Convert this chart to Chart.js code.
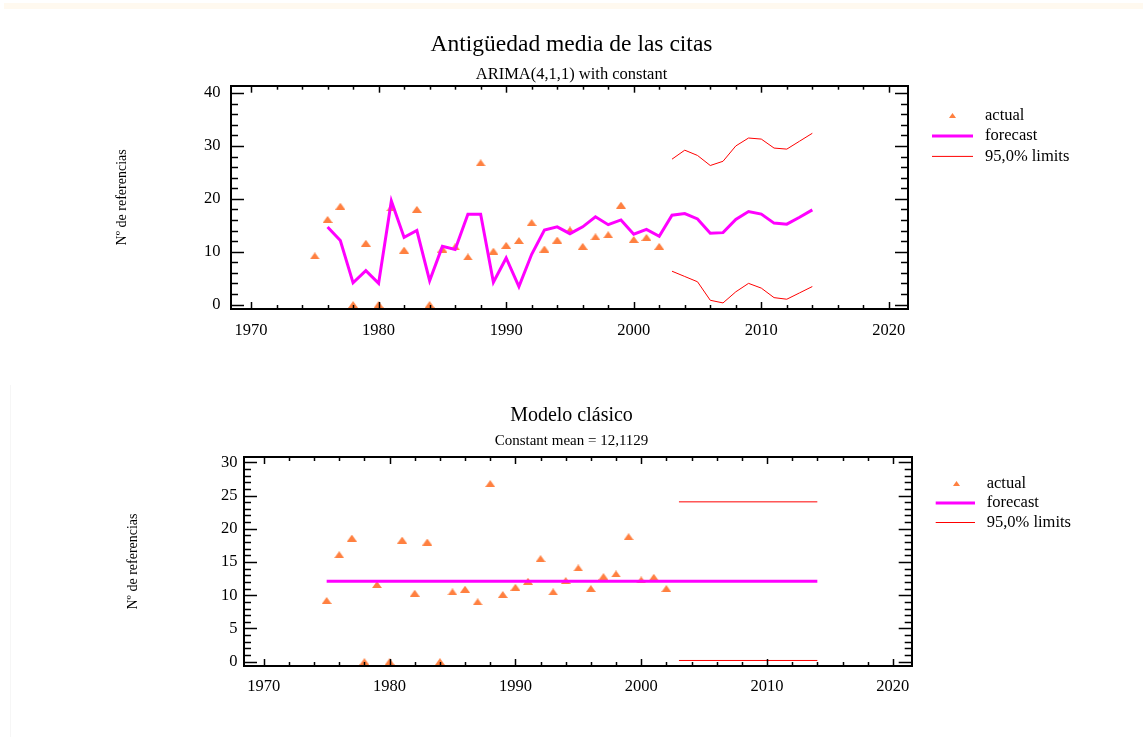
<!DOCTYPE html>
<html>
<head>
<meta charset="utf-8">
<script src="https://cdn.jsdelivr.net/npm/chart.js@4/dist/chart.umd.min.js"></script>
<style>
  html, body { margin: 0; padding: 0; background: #fff; }
  body { width: 1143px; height: 737px; position: relative; overflow: hidden; }
  #band { position: absolute; left: 4px; top: 3px; width: 1139px; height: 6px; background: #fff9ef; }
  #edge { position: absolute; left: 10px; top: 385px; width: 1px; height: 352px; background: #f6f6f6; }
  canvas { position: absolute; left: 0; }
  #arima { top: 0; }
  #clasico { top: 370px; }
</style>
</head>
<body>
<div id="band"></div>
<div id="edge"></div>
<canvas id="arima" width="1143" height="370"></canvas>
<canvas id="clasico" width="1143" height="367"></canvas>
<script>
// observed series (both panels)
const actualYears = [1975, 1976, 1977, 1978, 1979, 1980, 1981, 1982, 1983, 1984,
  1985, 1986, 1987, 1988, 1989, 1990, 1991, 1992, 1993, 1994,
  1995, 1996, 1997, 1998, 1999, 2000, 2001, 2002];
const actualValues = [9.2, 16.1, 18.6, 0, 11.6, 0, 18.3, 10.3, 18.0, 0,
  10.5, 10.9, 9.0, 26.8, 10.1, 11.2, 12.1, 15.5, 10.5, 12.2,
  14.1, 11.0, 12.8, 13.2, 18.8, 12.3, 12.7, 11.0];

// ARIMA(4,1,1) panel
const arimaYears = [1976, 1977, 1978, 1979, 1980, 1981, 1982, 1983, 1984, 1985,
  1986, 1987, 1988, 1989, 1990, 1991, 1992, 1993, 1994, 1995,
  1996, 1997, 1998, 1999, 2000, 2001, 2002, 2003, 2004, 2005,
  2006, 2007, 2008, 2009, 2010, 2011, 2012, 2013, 2014];
const arimaForecast = [14.65, 12.1, 4.1, 6.4, 4.0, 19.6, 12.7, 14.0, 4.5, 11.0,
  10.4, 17.1, 17.1, 4.2, 8.8, 3.4, 9.5, 14.1, 14.7, 13.4,
  14.7, 16.6, 15.1, 16.0, 13.3, 14.2, 12.9, 16.9, 17.2, 16.2,
  13.5, 13.6, 16.1, 17.6, 17.1, 15.4, 15.2, 16.5, 17.9];
const limitYears = [2003, 2004, 2005, 2006, 2007, 2008, 2009, 2010, 2011, 2012, 2013, 2014];
const arimaUpper = [27.5, 29.2, 28.2, 26.3, 27.1, 30.0, 31.5, 31.3, 29.6, 29.4, 30.9, 32.4];
const arimaLower = [6.3, 5.3, 4.3, 0.8, 0.3, 2.4, 4.0, 3.1, 1.3, 1.0, 2.2, 3.4];

// constant mean panel
const meanYears = [1975, 2014];
const meanForecast = [12.1129, 12.1129];
const meanLimitYears = [2003, 2014];
const meanUpper = [24.05, 24.05];
const meanLower = [0.18, 0.18];

// tick labels
const yearTicks = [1970, 1980, 1990, 2000, 2010, 2020];
const arimaYTicks = [0, 10, 20, 30, 40];
const meanYTicks = [0, 5, 10, 15, 20, 25, 30];

const serif = '"Liberation Serif", "Times New Roman", serif';
Chart.defaults.font.family = serif;
Chart.defaults.color = '#000';

const orange = '#ff8040';
const magenta = '#ff00ff';
const red = '#ff0000';

function pts(xs, ys) {
  return xs.map((x, i) => ({ x: x, y: ys[i] }));
}

// flat triangle marker, drawn centred on the point
function triangleMarker(w, h) {
  const c = document.createElement('canvas');
  c.width = w; c.height = h;
  const t = c.getContext('2d');
  t.fillStyle = orange;
  t.beginPath();
  t.moveTo(w / 2, 0); t.lineTo(w, h); t.lineTo(0, h); t.closePath();
  t.fill();
  return c;
}
const bigTriangle = triangleMarker(10, 7);
const smallTriangle = triangleMarker(7, 5);

// tick marks pointing into the plot, on all four sides
const innerTicks = {
  id: 'innerTicks',
  afterDatasetsDraw(chart, args, o) {
    const { ctx, chartArea: a } = chart;
    const x = chart.scales.x, y = chart.scales.y;
    ctx.save();
    ctx.strokeStyle = '#000';
    ctx.lineWidth = 1.5;
    const mark = (px, py, dx, dy) => {
      ctx.beginPath(); ctx.moveTo(px, py); ctx.lineTo(px + dx, py + dy); ctx.stroke();
    };
    for (let v = Math.ceil(x.min / o.xMinor) * o.xMinor; v <= x.max; v += o.xMinor) {
      const len = v % o.xMajor === 0 ? 7 : 4;
      const px = Math.round(x.getPixelForValue(v)) + 0.5;
      mark(px, a.bottom, 0, -len);
      mark(px, a.top, 0, len);
    }
    for (let v = Math.ceil(y.min / o.yMinor) * o.yMinor; v <= y.max; v += o.yMinor) {
      const len = v % o.yMajor === 0 ? 13 : 7;
      const py = Math.round(y.getPixelForValue(v)) + 0.5;
      mark(a.left, py, len, 0);
      mark(a.right, py, -len, 0);
    }
    ctx.restore();
  }
};

// legend to the right of the plot, built from the datasets
const sideLegend = {
  id: 'sideLegend',
  afterDraw(chart, args, o) {
    const { ctx, chartArea: a } = chart;
    ctx.save();
    ctx.font = '16.5px ' + serif;
    ctx.textBaseline = 'middle';
    chart.data.datasets.filter(d => !d.hideInLegend).forEach((d, i) => {
      const yy = a.top + o.top + i * o.gap;
      if (d.showLine === false) {
        ctx.drawImage(smallTriangle, Math.round(a.right + o.mark - 3.5), Math.round(yy - 2.5));
      } else {
        ctx.strokeStyle = d.borderColor;
        ctx.lineWidth = d.borderWidth;
        ctx.beginPath();
        ctx.moveTo(a.right + o.line0, yy);
        ctx.lineTo(a.right + o.line1, yy);
        ctx.stroke();
      }
      ctx.fillStyle = '#000';
      ctx.fillText(d.label, a.right + o.text, yy);
    });
    ctx.restore();
  }
};

function fixedTicks(values) {
  return s => { s.ticks = values.map(v => ({ value: v })); };
}

function buildChart(id, g) {
  const border = { display: true, color: '#000', width: 2 };
  const tickFont = { size: 16.5 };
  return new Chart(document.getElementById(id), {
    type: 'line',
    data: {
      datasets: [
        { label: 'actual', data: pts(actualYears, actualValues), showLine: false,
          pointStyle: bigTriangle, pointRadius: 5, pointBackgroundColor: orange,
          pointBorderWidth: 0, borderColor: orange, order: 1 },
        { label: 'forecast', data: pts(g.fYears, g.fValues), borderColor: magenta,
          borderWidth: 3, pointRadius: 0, tension: 0, order: 0 },
        { label: '95,0% limits', data: pts(g.limYears, g.upper), borderColor: red,
          borderWidth: 1, pointRadius: 0, tension: 0, order: 0 },
        { label: '95,0% limits', data: pts(g.limYears, g.lower), borderColor: red,
          borderWidth: 1, pointRadius: 0, tension: 0, order: 0, hideInLegend: true }
      ]
    },
    options: {
      responsive: false,
      animation: false,
      devicePixelRatio: 1,
      layout: { padding: 0 },
      plugins: {
        legend: { display: false },
        tooltip: { enabled: false },
        title: { display: true, text: g.title, font: { size: g.titleSize, weight: 'normal' },
          padding: { top: g.titlePad, bottom: 0 } },
        subtitle: { display: true, text: g.subtitle, font: { size: g.subSize },
          padding: { top: g.subPadTop, bottom: g.subPadBottom } },
        innerTicks: { xMinor: 2, xMajor: 10, yMinor: g.yMinor, yMajor: g.yStep },
        sideLegend: g.legend
      },
      scales: {
        x: {
          type: 'linear', position: 'bottom', bounds: 'data', min: 1968.43, max: 2021.5,
          grid: { display: false, drawTicks: false }, border: border,
          ticks: { padding: g.xPad, font: tickFont, maxRotation: 0, autoSkip: false,
            callback: v => String(v) },
          afterBuildTicks: fixedTicks(yearTicks),
          afterFit: s => { s.height = g.xHeight; }
        },
        x2: {
          type: 'linear', position: 'top', bounds: 'data', min: 1968.43, max: 2021.5,
          grid: { display: false, drawTicks: false }, border: border, ticks: { display: false },
          afterFit: s => { s.height = 0; }
        },
        y: {
          type: 'linear', position: 'left', bounds: 'data', min: g.yMin, max: g.yMax,
          grid: { display: false, drawTicks: false }, border: border,
          ticks: { padding: g.yPad, font: tickFont, callback: v => String(v) },
          afterBuildTicks: fixedTicks(g.yTicks),
          title: { display: true, text: 'Nº de referencias', font: { size: 14 },
            padding: { top: g.yTitlePad, bottom: 0 } },
          afterFit: s => { s.width = g.yWidth; }
        },
        y2: {
          type: 'linear', position: 'right', bounds: 'data', min: g.yMin, max: g.yMax,
          grid: { display: false, drawTicks: false }, border: border, ticks: { display: false },
          afterFit: s => { s.width = g.rightWidth; }
        }
      }
    },
    plugins: [innerTicks, sideLegend]
  });
}

buildChart('arima', {
  title: 'Antigüedad media de las citas', titleSize: 23.5, titlePad: 30.5,
  subtitle: 'ARIMA(4,1,1) with constant', subSize: 16.5, subPadTop: 6.5, subPadBottom: 0.7,
  fYears: arimaYears, fValues: arimaForecast,
  limYears: limitYears, upper: arimaUpper, lower: arimaLower,
  yMin: -0.85, yMax: 41.4, yTicks: arimaYTicks, yStep: 10, yMinor: 2,
  yWidth: 231, rightWidth: 235, xHeight: 61, xPad: 11.5, yPad: 10.5, yTitlePad: 114,
  legend: { top: 29.7, gap: 20.5, mark: 44.3, line0: 24, line1: 65, text: 77 }
});

buildChart('clasico', {
  title: 'Modelo clásico', titleSize: 20, titlePad: 33.7,
  subtitle: 'Constant mean = 12,1129', subSize: 15, subPadTop: 4, subPadBottom: 7.3,
  fYears: meanYears, fValues: meanForecast,
  limYears: meanLimitYears, upper: meanUpper, lower: meanLower,
  yMin: -0.65, yMax: 30.8, yTicks: meanYTicks, yStep: 5, yMinor: 1,
  yWidth: 244, rightWidth: 231.3, xHeight: 71, xPad: 10.5, yPad: 6.5, yTitlePad: 125,
  legend: { top: 26.7, gap: 19.4, mark: 45, line0: 24, line1: 63.3, text: 75 }
});
</script>
</body>
</html>
